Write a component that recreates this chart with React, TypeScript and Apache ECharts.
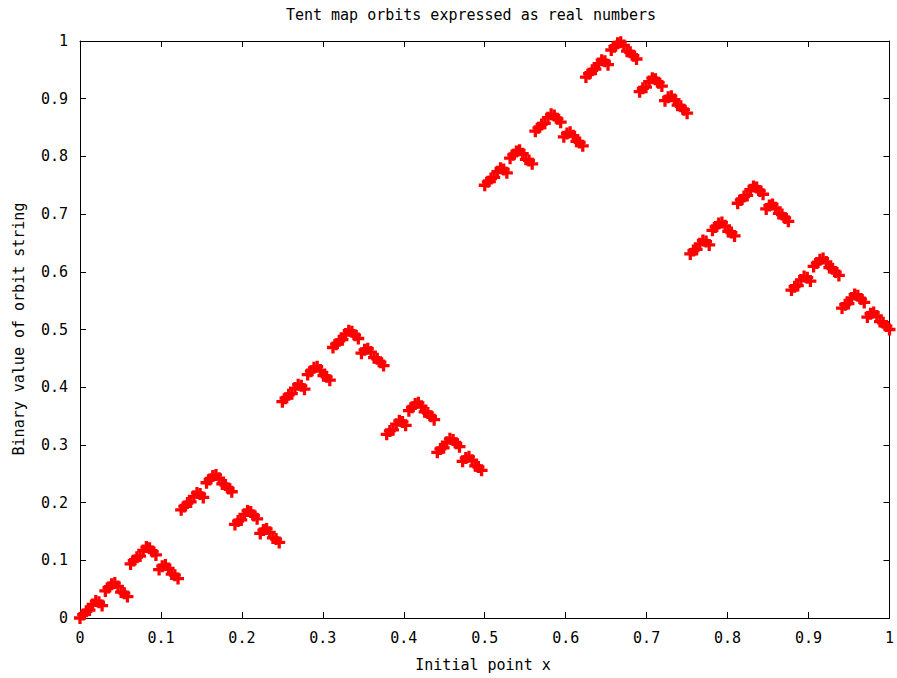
import React, { useEffect, useRef } from "react";
import * as echarts from "echarts";

// Initial points x (multiples of 1/256 across [0, 1])
const initialX: number[] = [
  0, 0.0039, 0.0078, 0.0117, 0.0156, 0.0195, 0.0234, 0.0273, 0.0313, 0.0352, 0.0391, 0.043, 0.0469, 0.0508, 0.0547, 0.0586,
  0.0625, 0.0664, 0.0703, 0.0742, 0.0781, 0.082, 0.0859, 0.0898, 0.0938, 0.0977, 0.1016, 0.1055, 0.1094, 0.1133, 0.1172, 0.1211,
  0.125, 0.1289, 0.1328, 0.1367, 0.1406, 0.1445, 0.1484, 0.1523, 0.1563, 0.1602, 0.1641, 0.168, 0.1719, 0.1758, 0.1797, 0.1836,
  0.1875, 0.1914, 0.1953, 0.1992, 0.2031, 0.207, 0.2109, 0.2148, 0.2188, 0.2227, 0.2266, 0.2305, 0.2344, 0.2383, 0.2422, 0.2461,
  0.25, 0.2539, 0.2578, 0.2617, 0.2656, 0.2695, 0.2734, 0.2773, 0.2813, 0.2852, 0.2891, 0.293, 0.2969, 0.3008, 0.3047, 0.3086,
  0.3125, 0.3164, 0.3203, 0.3242, 0.3281, 0.332, 0.3359, 0.3398, 0.3438, 0.3477, 0.3516, 0.3555, 0.3594, 0.3633, 0.3672, 0.3711,
  0.375, 0.3789, 0.3828, 0.3867, 0.3906, 0.3945, 0.3984, 0.4023, 0.4063, 0.4102, 0.4141, 0.418, 0.4219, 0.4258, 0.4297, 0.4336,
  0.4375, 0.4414, 0.4453, 0.4492, 0.4531, 0.457, 0.4609, 0.4648, 0.4688, 0.4727, 0.4766, 0.4805, 0.4844, 0.4883, 0.4922, 0.4961,
  0.5, 0.5039, 0.5078, 0.5117, 0.5156, 0.5195, 0.5234, 0.5273, 0.5313, 0.5352, 0.5391, 0.543, 0.5469, 0.5508, 0.5547, 0.5586,
  0.5625, 0.5664, 0.5703, 0.5742, 0.5781, 0.582, 0.5859, 0.5898, 0.5938, 0.5977, 0.6016, 0.6055, 0.6094, 0.6133, 0.6172, 0.6211,
  0.625, 0.6289, 0.6328, 0.6367, 0.6406, 0.6445, 0.6484, 0.6523, 0.6563, 0.6602, 0.6641, 0.668, 0.6719, 0.6758, 0.6797, 0.6836,
  0.6875, 0.6914, 0.6953, 0.6992, 0.7031, 0.707, 0.7109, 0.7148, 0.7188, 0.7227, 0.7266, 0.7305, 0.7344, 0.7383, 0.7422, 0.7461,
  0.75, 0.7539, 0.7578, 0.7617, 0.7656, 0.7695, 0.7734, 0.7773, 0.7813, 0.7852, 0.7891, 0.793, 0.7969, 0.8008, 0.8047, 0.8086,
  0.8125, 0.8164, 0.8203, 0.8242, 0.8281, 0.832, 0.8359, 0.8398, 0.8438, 0.8477, 0.8516, 0.8555, 0.8594, 0.8633, 0.8672, 0.8711,
  0.875, 0.8789, 0.8828, 0.8867, 0.8906, 0.8945, 0.8984, 0.9023, 0.9063, 0.9102, 0.9141, 0.918, 0.9219, 0.9258, 0.9297, 0.9336,
  0.9375, 0.9414, 0.9453, 0.9492, 0.9531, 0.957, 0.9609, 0.9648, 0.9688, 0.9727, 0.9766, 0.9805, 0.9844, 0.9883, 0.9922, 0.9961,
  1,
];

// Binary value of each point's orbit string (itinerary bits read as a binary fraction)
const orbitValue: number[] = [
  0, 0.0059, 0.0117, 0.0137, 0.0234, 0.0293, 0.0273, 0.0215, 0.0469, 0.0527, 0.0586, 0.0605, 0.0547, 0.0449, 0.043, 0.0371,
  0.0938, 0.0996, 0.1055, 0.1074, 0.1172, 0.123, 0.1211, 0.1152, 0.1094, 0.084, 0.0898, 0.0918, 0.0859, 0.0762, 0.0742, 0.0684,
  0.1875, 0.1934, 0.1992, 0.2012, 0.2109, 0.2168, 0.2148, 0.209, 0.2344, 0.2402, 0.2461, 0.248, 0.2422, 0.2324, 0.2305, 0.2246,
  0.2188, 0.1621, 0.168, 0.1699, 0.1797, 0.1855, 0.1836, 0.1777, 0.1719, 0.1465, 0.1523, 0.1543, 0.1484, 0.1387, 0.1367, 0.1309,
  0.375, 0.3809, 0.3867, 0.3887, 0.3984, 0.4043, 0.4023, 0.3965, 0.4219, 0.4277, 0.4336, 0.4355, 0.4297, 0.4199, 0.418, 0.4121,
  0.4688, 0.4746, 0.4805, 0.4824, 0.4922, 0.498, 0.4961, 0.4902, 0.4844, 0.459, 0.4648, 0.4668, 0.4609, 0.4512, 0.4492, 0.4434,
  0.4375, 0.3184, 0.3242, 0.3262, 0.3359, 0.3418, 0.3398, 0.334, 0.3594, 0.3652, 0.3711, 0.373, 0.3672, 0.3574, 0.3555, 0.3496,
  0.3438, 0.2871, 0.293, 0.2949, 0.3047, 0.3105, 0.3086, 0.3027, 0.2969, 0.2715, 0.2773, 0.2793, 0.2734, 0.2637, 0.2617, 0.2559,
  0.75, 0.7559, 0.7617, 0.7637, 0.7734, 0.7793, 0.7773, 0.7715, 0.7969, 0.8027, 0.8086, 0.8105, 0.8047, 0.7949, 0.793, 0.7871,
  0.8438, 0.8496, 0.8555, 0.8574, 0.8672, 0.873, 0.8711, 0.8652, 0.8594, 0.834, 0.8398, 0.8418, 0.8359, 0.8262, 0.8242, 0.8184,
  0.9375, 0.9434, 0.9492, 0.9512, 0.9609, 0.9668, 0.9648, 0.959, 0.9844, 0.9902, 0.9961, 0.998, 0.9922, 0.9824, 0.9805, 0.9746,
  0.9688, 0.9121, 0.918, 0.9199, 0.9297, 0.9355, 0.9336, 0.9277, 0.9219, 0.8965, 0.9023, 0.9043, 0.8984, 0.8887, 0.8867, 0.8809,
  0.875, 0.6309, 0.6367, 0.6387, 0.6484, 0.6543, 0.6523, 0.6465, 0.6719, 0.6777, 0.6836, 0.6855, 0.6797, 0.6699, 0.668, 0.6621,
  0.7188, 0.7246, 0.7305, 0.7324, 0.7422, 0.748, 0.7461, 0.7402, 0.7344, 0.709, 0.7148, 0.7168, 0.7109, 0.7012, 0.6992, 0.6934,
  0.6875, 0.5684, 0.5742, 0.5762, 0.5859, 0.5918, 0.5898, 0.584, 0.6094, 0.6152, 0.6211, 0.623, 0.6172, 0.6074, 0.6055, 0.5996,
  0.5938, 0.5371, 0.543, 0.5449, 0.5547, 0.5605, 0.5586, 0.5527, 0.5469, 0.5215, 0.5273, 0.5293, 0.5234, 0.5137, 0.5117, 0.5059,
  0.5,
];

const titleText = "Tent map orbits expressed as real numbers";
const xLabel = "Initial point x";
const yLabel = "Binary value of orbit string";

const MONO = "'DejaVu Sans Mono', 'Liberation Mono', monospace";
const INK = "#000000";
// Bold plus-sign marker
const PLUS = "path://M4,0H7V4H11V7H7V11H4V7H0V4H4Z";

const GRID = { left: 80, top: 41, width: 810, height: 577 };

function axisBase(showLabels: boolean) {
  return {
    type: "value" as const,
    min: 0,
    max: 1,
    interval: 0.1,
    splitLine: { show: false },
    axisLine: { show: true, onZero: false, lineStyle: { color: INK, width: 1 } },
    axisTick: { show: true, inside: true, length: 6, lineStyle: { color: INK, width: 1 } },
    axisLabel: {
      show: showLabels,
      color: INK,
      fontFamily: MONO,
      fontSize: 15,
      margin: 12,
    },
  };
}

export default function App() {
  const ref = useRef<HTMLDivElement>(null);

  useEffect(() => {
    if (!ref.current) return;
    const chart = echarts.init(ref.current, undefined, { renderer: "svg" });

    const points = initialX.map((x, i) => [x, orbitValue[i]]);

    chart.setOption({
      animation: false,
      backgroundColor: "#ffffff",
      grid: { ...GRID, containLabel: false },
      xAxis: [
        { ...axisBase(true), position: "bottom" },
        { ...axisBase(false), position: "top" },
      ],
      yAxis: [
        { ...axisBase(true), position: "left" },
        { ...axisBase(false), position: "right" },
      ],
      graphic: [
        {
          type: "text",
          x: 471,
          y: 15,
          style: {
            text: titleText,
            fill: INK,
            font: `15px ${MONO}`,
            textAlign: "center",
            textVerticalAlign: "middle",
          },
        },
        {
          type: "text",
          x: 483,
          y: 665,
          style: {
            text: xLabel,
            fill: INK,
            font: `15px ${MONO}`,
            textAlign: "center",
            textVerticalAlign: "middle",
          },
        },
        {
          type: "text",
          x: 19,
          y: 329,
          rotation: Math.PI / 2,
          style: {
            text: yLabel,
            fill: INK,
            font: `15px ${MONO}`,
            textAlign: "center",
            textVerticalAlign: "middle",
          },
        },
      ],
      series: [
        {
          type: "scatter",
          xAxisIndex: 0,
          yAxisIndex: 0,
          data: points,
          symbol: PLUS,
          symbolSize: 12,
          itemStyle: { color: "#ff0000", opacity: 1 },
          large: false,
          clip: false,
        },
      ],
    });

    return () => chart.dispose();
  }, []);

  return <div ref={ref} style={{ width: 897, height: 678, position: "absolute", left: 0, top: 0 }} />;
}
